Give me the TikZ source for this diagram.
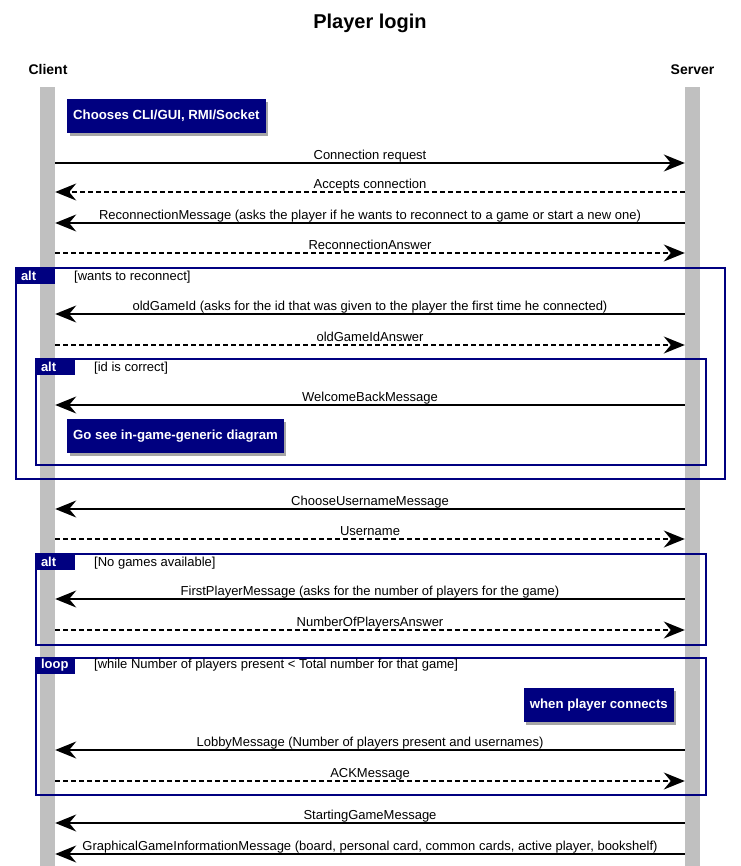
\documentclass[tikz,border=0pt]{standalone}
\usepackage{fontspec}
\setmainfont{Liberation Sans}
\usepackage{xcolor}
\usetikzlibrary{arrows.meta,positioning,shadows}

\definecolor{umlnavy}{HTML}{000080}
\definecolor{lifegray}{HTML}{C0C0C0}

\begin{document}
\begin{tikzpicture}[x=1pt, y=-1pt,
        title/.style={font=\fontsize{20}{24}\selectfont\bfseries, inner sep=0pt},
        actor/.style={font=\fontsize{14}{17}\selectfont\bfseries, inner sep=0pt},
        lifeline/.style={rectangle, fill=lifegray, inner sep=0pt, minimum width=15pt, minimum height=779pt},
        msg/.style={-{Stealth[length=21pt, width=17pt, inset=7pt]}, line width=1.5pt},
        reply/.style={msg, dash pattern=on 5pt off 3pt},
        msgtext/.style={midway, anchor=base, yshift=3.5pt, inner sep=0pt, font=\fontsize{13}{15}\selectfont},
        note/.style={rectangle, fill=umlnavy, text=white, font=\fontsize{13.2}{15}\selectfont\bfseries, inner xsep=6pt, inner ysep=0pt, minimum height=34pt, drop shadow={shadow xshift=2.5pt, shadow yshift=-2.5pt, fill=black, opacity=0.35}},
        frame/.style={rectangle, draw=umlnavy, line width=2pt, inner sep=0pt},
        tag/.style={rectangle, fill=umlnavy, text=white, font=\fontsize{13}{15}\selectfont\bfseries, text width=28pt, inner xsep=6pt, inner ysep=0pt, minimum height=17pt, outer sep=0pt},
        guard/.style={font=\fontsize{13}{15}\selectfont, inner sep=0pt}
    ]
    \useasboundingbox (0,0) rectangle (740,866);

    % Title and participants
    \node[title, anchor=base] (title) at (370,29) {Player login};
    \node[actor, anchor=base] (clientname) at (48,75) {Client};
    \node[actor, anchor=base] (servername) at (692.5,75) {Server};

    % === Lifelines ===
    \node[lifeline, anchor=north] (client) at (47.5,87) {};
    \node[lifeline, anchor=north] (server) at (692.5,87) {};

    \node[note, anchor=north west] (clichoice) at (67,99) {Chooses CLI/GUI, RMI/Socket};

    % === Connection ===
    \draw[msg] (client.east |- 0,163) -- (server.west |- 0,163) node[msgtext] {Connection request};
    \draw[reply] (server.west |- 0,192) -- (client.east |- 0,192) node[msgtext] {Accepts connection};
    \draw[msg] (server.west |- 0,223) -- (client.east |- 0,223) node[msgtext] {ReconnectionMessage (asks the player if he wants to reconnect to a game or start a new one)};
    \draw[reply] (client.east |- 0,253) -- (server.west |- 0,253) node[msgtext] {ReconnectionAnswer};

    % === alt: wants to reconnect ===
    \draw[msg] (server.west |- 0,314) -- (client.east |- 0,314) node[msgtext] {oldGameId (asks for the id that was given to the player the first time he connected)};
    \draw[reply] (client.east |- 0,345) -- (server.west |- 0,345) node[msgtext] {oldGameIdAnswer};

    % nested alt: id is correct
    \draw[msg] (server.west |- 0,405) -- (client.east |- 0,405) node[msgtext] {WelcomeBackMessage};
    \node[note, anchor=north west] (gosee) at (67,419) {Go see in-game-generic diagram};

    % === Username ===
    \draw[msg] (server.west |- 0,509) -- (client.east |- 0,509) node[msgtext] {ChooseUsernameMessage};
    \draw[reply] (client.east |- 0,539) -- (server.west |- 0,539) node[msgtext] {Username};

    % === alt: no games available ===
    \draw[msg] (server.west |- 0,599) -- (client.east |- 0,599) node[msgtext] {FirstPlayerMessage (asks for the number of players for the game)};
    \draw[reply] (client.east |- 0,630) -- (server.west |- 0,630) node[msgtext] {NumberOfPlayersAnswer};

    % === loop: waiting for players ===
    \node[note, anchor=north east] (playerconn) at (674,688) {when player connects};
    \draw[msg] (server.west |- 0,750) -- (client.east |- 0,750) node[msgtext] {LobbyMessage (Number of players present and usernames)};
    \draw[reply] (client.east |- 0,781) -- (server.west |- 0,781) node[msgtext] {ACKMessage};

    % === Game start ===
    \draw[msg] (server.west |- 0,823) -- (client.east |- 0,823) node[msgtext] {StartingGameMessage};
    \draw[msg] (server.west |- 0,854) -- (client.east |- 0,854) node[msgtext] {GraphicalGameInformationMessage (board, personal card, common cards, active player, bookshelf)};

    % === Frames ===
    \node[frame, anchor=north west, minimum width=709pt, minimum height=211pt] (altreconnect) at (15,267) {};
    \node[tag, anchor=north west] (altreconnecttag) at (altreconnect.north west) {alt};
    \node[guard, base right=19pt of altreconnecttag] (altreconnectguard) {[wants to reconnect]};

    \node[frame, anchor=north west, minimum width=670pt, minimum height=106pt] (altid) at (35,358) {};
    \node[tag, anchor=north west] (altidtag) at (altid.north west) {alt};
    \node[guard, base right=19pt of altidtag] (altidguard) {[id is correct]};

    \node[frame, anchor=north west, minimum width=670pt, minimum height=91pt] (altgames) at (35,553) {};
    \node[tag, anchor=north west] (altgamestag) at (altgames.north west) {alt};
    \node[guard, base right=19pt of altgamestag] (altgamesguard) {[No games available]};

    \node[frame, anchor=north west, minimum width=670pt, minimum height=137pt] (loopplayers) at (35,657) {};
    \node[tag, anchor=north west] (loopplayerstag) at (loopplayers.north west) {loop};
    \node[guard, base right=19pt of loopplayerstag] (loopplayersguard) {[while Number of players present < Total number for that game]};

\end{tikzpicture}
\end{document}
